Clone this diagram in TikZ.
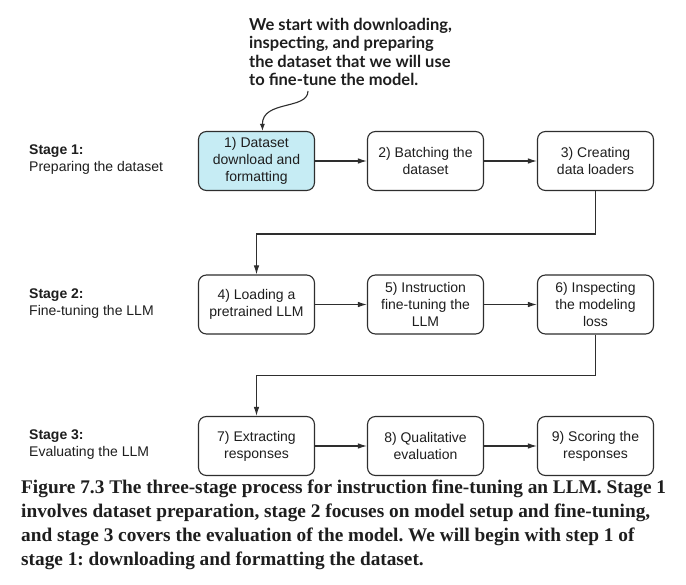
\documentclass[tikz,border=0pt]{standalone}
\usepackage{fontspec}
\setmainfont{Liberation Serif}
\setsansfont{Liberation Sans}
\newfontfamily\annotfont{Lato}
\usetikzlibrary{arrows.meta,calc}
\definecolor{boxline}{HTML}{2E2E2E}
\definecolor{boxfill}{HTML}{C6ECF4}
\definecolor{txt}{HTML}{1E1E1E}
\tikzset{
  stepbox/.style={draw=boxline, line width=1.1pt, rounded corners=8pt, minimum width=116pt, minimum height=59pt, inner sep=0pt, align=center, font=\sffamily\fontsize{14}{17}\selectfont, text=txt},
  arr/.style={draw=boxline, line width=1.1pt, -{Latex[length=9pt,width=5.5pt]}},
  stagelbl/.style={anchor=west, align=left, inner sep=0pt, font=\sffamily\fontsize{14}{17}\selectfont, text=txt},
}
\frenchspacing
\begin{document}
\begin{tikzpicture}[x=1pt,y=1pt]
\useasboundingbox (0,0) rectangle (686,-585);
\fill[white] (0,0) rectangle (686,-585);
% annotation
\node[anchor=north west, align=left, inner sep=0pt, font=\annotfont\bfseries\fontsize{16.5}{18.5}\selectfont, text=txt] (annot) at (249,-18) {We start with downloading,\\inspecting, and preparing\\the dataset that we will use\\to fine-tune the model.};
% boxes
\node[stepbox, fill=boxfill] (b1) at (256.5,-161) {1) Dataset\\download and\\formatting};
\node[stepbox] (b2) at (425.5,-161) {2) Batching the\\dataset};
\node[stepbox] (b3) at (595.5,-161) {3) Creating\\data loaders};
\node[stepbox] (b4) at (256.5,-304.5) {4) Loading a\\pretrained LLM};
\node[stepbox] (b5) at (425.5,-304.5) {5) Instruction\\fine-tuning the\\LLM};
\node[stepbox] (b6) at (595.5,-304.5) {6) Inspecting\\the modeling\\loss};
\node[stepbox] (b7) at (256.5,-446) {7) Extracting\\responses};
\node[stepbox] (b8) at (425.5,-446) {8) Qualitative\\evaluation};
\node[stepbox] (b9) at (595.5,-446) {9) Scoring the\\responses};
% stage labels
\node[stagelbl] (s1) at (29,-160) {\textbf{Stage 1:}\\Preparing the dataset};
\node[stagelbl] (s2) at (29,-304) {\textbf{Stage 2:}\\Fine-tuning the LLM};
\node[stagelbl] (s3) at (29,-445) {\textbf{Stage 3:}\\Evaluating the LLM};
% connectors
\draw[arr] (b1) -- (b2);
\draw[arr] (b2) -- (b3);
\draw[arr] (b4) -- (b5);
\draw[arr] (b5) -- (b6);
\draw[arr] (b7) -- (b8);
\draw[arr] (b8) -- (b9);
\draw[arr] (b3.south) -- ([yshift=-43pt]b3.south) -| (b4.north);
\draw[arr] (b6.south) -- ([yshift=-41pt]b6.south) -| (b7.north);
\coordinate (cs) at (308,-91);
\draw[draw=boxline, line width=1.1pt, -{Latex[length=7pt,width=5pt]}] (cs) .. controls (308,-110) and (262,-100) .. ([xshift=6pt]b1.north);
% caption
\node[anchor=north west, align=left, inner sep=0pt, font=\rmfamily\bfseries\fontsize{19.3}{24}\selectfont, text=txt] (cap) at (21,-480) {Figure 7.3 The three-stage process for instruction fine-tuning an LLM. Stage 1\\involves dataset preparation, stage 2 focuses on model setup and fine-tuning,\\and stage 3 covers the evaluation of the model. We will begin with step 1 of\\stage 1: downloading and formatting the dataset.};
\end{tikzpicture}
\end{document}
